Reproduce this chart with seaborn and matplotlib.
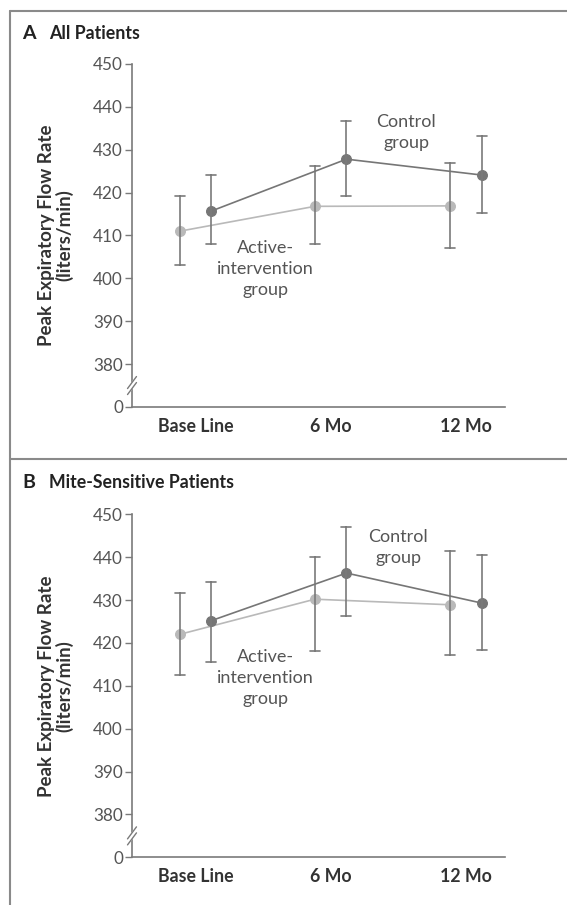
import numpy as np
import pandas as pd
import matplotlib
matplotlib.use("Agg")
import matplotlib.pyplot as plt
import matplotlib.transforms as mtransforms
from matplotlib.lines import Line2D
import seaborn as sns

visits = ["Base Line", "6 Mo", "12 Mo"]
groups = ["Active-intervention group", "Control group"]

# panel A - all patients
a_active_mean = [411.0, 416.8, 416.9]
a_active_low = [403.2, 407.9, 407.1]
a_active_high = [419.2, 426.2, 427.0]
a_control_mean = [415.7, 427.8, 424.1]
a_control_low = [408.1, 419.2, 415.3]
a_control_high = [424.1, 436.7, 433.2]

# panel B - mite-sensitive patients
b_active_mean = [422.0, 430.2, 428.9]
b_active_low = [412.5, 418.2, 417.1]
b_active_high = [431.7, 440.1, 441.4]
b_control_mean = [425.2, 436.3, 429.3]
b_control_low = [415.6, 426.3, 418.4]
b_control_high = [434.2, 447.0, 440.4]

yticks = [370, 380, 390, 400, 410, 420, 430, 440, 450]
ytick_labels = ["0", "380", "390", "400", "410", "420", "430", "440", "450"]


def make_df(act_mean, act_low, act_high, ctl_mean, ctl_low, ctl_high):
    rows = []
    for g, m, lo, hi in [(groups[0], act_mean, act_low, act_high),
                         (groups[1], ctl_mean, ctl_low, ctl_high)]:
        for i, v in enumerate(visits):
            # low / mean / high -> median gives the mean, full range gives the CI
            for val in (lo[i], m[i], hi[i]):
                rows.append({"visit": v, "group": g, "pefr": val})
    return pd.DataFrame(rows)


df_a = make_df(a_active_mean, a_active_low, a_active_high,
               a_control_mean, a_control_low, a_control_high)
df_b = make_df(b_active_mean, b_active_low, b_active_high,
               b_control_mean, b_control_low, b_control_high)

sns.set_theme(style="white")
plt.rcParams["font.family"] = ["Lato", "DejaVu Sans"]

spine_col = "#7a7a7a"
pal = {groups[0]: "#b9b9b9", groups[1]: "#767676"}

fig = plt.figure(figsize=(5.67, 9.05), dpi=100)
fig.patch.set_facecolor("white")

ax_a = fig.add_axes([0.2328, 0.5503, 0.6579, 0.3790])
ax_b = fig.add_axes([0.2328, 0.0527, 0.6579, 0.3790])

panels = [
    (ax_a, df_a, "A", "All Patients", 0.9635,
     (1.56, 434.0), (0.515, 402.1)),
    (ax_b, df_b, "B", "Mite-Sensitive Patients", 0.4663,
     (1.50, 442.3), (0.515, 411.8)),
]

for ax, df, letter, title, ty, ctl_xy, act_xy in panels:
    sns.pointplot(
        data=df, x="visit", y="pefr", hue="group",
        order=visits, hue_order=groups, palette=pal,
        estimator="median", errorbar=("pi", 100),
        dodge=0.234, capsize=0.074, markers="o",
        markersize=7, linewidth=1.2,
        err_kws={"color": spine_col, "linewidth": 1.2},
        legend=False, ax=ax,
    )
    ax.set_xlim(-0.47, 2.29)
    ax.set_ylim(370, 450)
    ax.set_yticks(yticks)
    ax.set_yticklabels(ytick_labels)
    ax.set_xlabel("")
    ax.set_ylabel("Peak Expiratory Flow Rate\n(liters/min)",
                  fontsize=13.5, fontweight="bold", color="#333333",
                  linespacing=1.0)
    ax.yaxis.set_label_coords(-0.158, 0.5)
    sns.despine(ax=ax)
    for s in ["left", "bottom"]:
        ax.spines[s].set_color(spine_col)
        ax.spines[s].set_linewidth(1.2)
    ax.tick_params(axis="y", length=5, width=1, color=spine_col,
                   labelsize=12.3, labelcolor="#555555", pad=1.5, left=True)
    ax.tick_params(axis="x", length=0, pad=8, labelsize=12.8,
                   labelcolor="#333333")
    for lab in ax.get_xticklabels():
        lab.set_fontweight("bold")

    ax.text(ctl_xy[0], ctl_xy[1], "Control\ngroup", ha="center", va="center",
            fontsize=13, color="#555555", linespacing=1.38)
    ax.text(act_xy[0], act_xy[1], "Active-\nintervention\ngroup",
            ha="center", va="center", fontsize=13, color="#555555",
            linespacing=1.38)

    # axis break mark
    tr = mtransforms.blended_transform_factory(ax.transAxes, ax.transData)
    ax.plot([-0.012, 0.012], [373.6, 376.4], color="white", lw=3.5,
            transform=tr, clip_on=False, zorder=5)
    ax.plot([-0.012, 0.012], [372.9, 375.7], color=spine_col, lw=1,
            transform=tr, clip_on=False, zorder=6)
    ax.plot([-0.012, 0.012], [374.3, 377.1], color=spine_col, lw=1,
            transform=tr, clip_on=False, zorder=6)

    fig.text(0.039, ty, letter, fontsize=14, fontweight="bold",
             color="#222222", va="center")
    fig.text(0.086, ty, title, fontsize=12.8, fontweight="bold",
             color="#222222", va="center")

# frame lines
frame_col = "#8a8a8a"
fig.add_artist(Line2D([0.0176, 1.0], [0.9878, 0.9878], color=frame_col, lw=1.5))
fig.add_artist(Line2D([0.0176, 0.0176], [0.0, 0.9878], color=frame_col, lw=1.5))
fig.add_artist(Line2D([0.0176, 1.0], [0.4928, 0.4928], color=frame_col, lw=1.5))

fig.savefig("out.png", dpi=100)
